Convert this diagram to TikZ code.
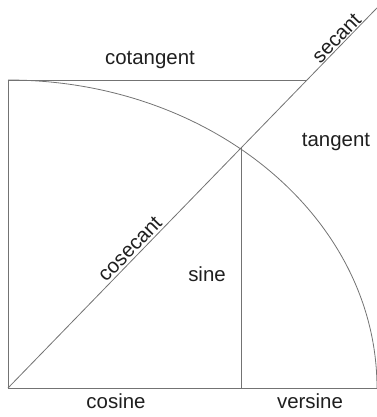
\documentclass[tikz,border=0pt]{standalone}
\usepackage{fontspec}
\setmainfont{Liberation Sans}
\begin{document}
\begin{tikzpicture}[x=1bp,y=-1bp,
  geo/.style={draw=black!55, line width=0.8bp},
  lbl/.style={font=\fontsize{20.5}{24}\selectfont, text=black!88, inner sep=0pt, anchor=base},
  slbl/.style={font=\fontsize{20.5}{24}\selectfont, text=black!88, sloped, above}]
\useasboundingbox (0,0) rectangle (377,417);
\clip (0,0) rectangle (377,417);
\coordinate (O) at (8,388);
\coordinate (A) at (8,80);
\coordinate (P) at (241.5,147.5);
\coordinate (F) at (241.5,388);
\coordinate (T) at (307,80);
\coordinate (E) at (377,7.9);
\coordinate (R) at (377,388);
\draw[geo] (A) -- (O) -- (R);
\draw[geo] (A) -- (T);
\draw[geo] (P) -- (F);
\draw[geo] (O) -- (E);
\draw[geo] (A) arc[start angle=90, end angle=0, x radius=369bp, y radius=308bp];
\node[lbl] (cot) at (150,64) {cotangent};
\node[lbl] (tan) at (336,146) {tangent};
\node[lbl] (sin) at (207,281.5) {sine};
\node[lbl] (cos) at (116,408) {cosine};
\node[lbl] (ver) at (310,408) {versine};
\path (O) -- (E)
  node[slbl, pos=0.349, inner sep=2.5bp] (csc) {cosecant}
  node[slbl, pos=0.906, inner sep=1bp] (sec) {secant};
\end{tikzpicture}
\end{document}
